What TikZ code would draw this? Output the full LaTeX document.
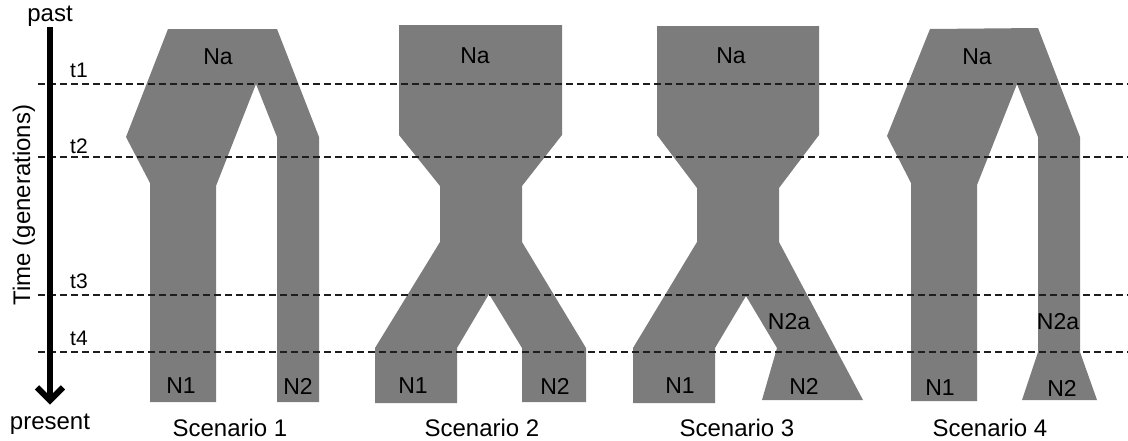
\documentclass[tikz,border=0pt]{standalone}
\usepackage{fontspec}
\setmainfont{Liberation Sans}
\usetikzlibrary{arrows.meta}
\definecolor{popgray}{RGB}{124,124,124}
\definecolor{dashcol}{RGB}{30,30,30}
\tikzset{
  pop/.style={fill=popgray, draw=none},
  tline/.style={draw=dashcol, line width=1.5pt, dash pattern=on 7pt off 4pt},
  lbl/.style={font=\fontsize{23}{26}\selectfont, inner sep=0pt},
  tlbl/.style={font=\fontsize{21}{24}\selectfont, inner sep=0pt},
  scen/.style={font=\fontsize{24}{28}\selectfont, inner sep=0pt},
  axislbl/.style={font=\fontsize{24}{27}\selectfont, inner sep=0pt},
  axisarrow/.style={line width=6.5pt, -{Straight Barb[length=13pt,width=26pt,line width=6pt]}}
}
\begin{document}
\begin{tikzpicture}[x=1pt,y=-1pt]
\useasboundingbox (0,0) rectangle (1128,440);
\fill[white] (0,0) rectangle (1128,440);

% Scenario 1
\fill[pop] (168,29) -- (277,29) -- (319,137) -- (319,402) -- (277,402) -- (277,137)
  -- (256,84) -- (216,186) -- (216,402) -- (150,402) -- (150,183) -- (126,137) -- cycle;
% Scenario 2
\fill[pop] (399,25) -- (562,25) -- (562,135) -- (522,186) -- (522,242) -- (586,348)
  -- (586,402) -- (522,402) -- (522,348) -- (489,294) -- (457,348) -- (457,403)
  -- (375,403) -- (375,348) -- (440,242) -- (440,186) -- (399,135) -- cycle;
% Scenario 3
\fill[pop] (657,26) -- (819,26) -- (819,135) -- (779,188) -- (779,242) -- (863,400)
  -- (762,400) -- (777,348) -- (746,296) -- (715,348) -- (715,403) -- (633,403)
  -- (633,348) -- (697,242) -- (697,188) -- (657,135) -- cycle;
% Scenario 4
\fill[pop] (930,29) -- (1038,28) -- (1080,137) -- (1080,352) -- (1097,400) -- (1022,400)
  -- (1038,352) -- (1038,137) -- (1017,84) -- (977,185) -- (977,401) -- (911,401)
  -- (911,183) -- (887,136) -- cycle;

% time lines
\coordinate (t1a) at (38,84);  \coordinate (t1b) at (1128,84);
\coordinate (t2a) at (38,157); \coordinate (t2b) at (1128,157);
\coordinate (t3a) at (38,295); \coordinate (t3b) at (1128,295);
\coordinate (t4a) at (38,352); \coordinate (t4b) at (1128,352);
\draw[tline] (t1a) -- (t1b);
\draw[tline] (t2a) -- (t2b);
\draw[tline] (t3a) -- (t3b);
\draw[tline] (t4a) -- (t4b);

\node[tlbl] (lt1) at (79,70) {t1};
\node[tlbl] (lt2) at (79,146) {t2};
\node[tlbl] (lt3) at (79,281) {t3};
\node[tlbl] (lt4) at (79,338) {t4};

% axis
\node[axislbl] (past) at (50,16) {past};
\node[axislbl] (present) at (50,424) {present};
\node[axislbl, rotate=90] (time) at (24,205) {Time (generations)};
\draw[axisarrow, shorten <=1pt, shorten >=9pt] (past.south) -- (present.north);

% labels
\node[lbl] (na1) at (218,57) {Na};
\node[lbl] (na2) at (475,56) {Na};
\node[lbl] (na3) at (731,56) {Na};
\node[lbl] (na4) at (977,57) {Na};
\node[lbl] (n11) at (181,386) {N1};
\node[lbl] (n21) at (298,386) {N2};
\node[lbl] (n12) at (413,386) {N1};
\node[lbl] (n22) at (555,386) {N2};
\node[lbl] (n13) at (680,386) {N1};
\node[lbl] (n23) at (804,386) {N2};
\node[lbl] (n2a3) at (789,322) {N2a};
\node[lbl] (n14) at (940,388) {N1};
\node[lbl] (n24) at (1062,388) {N2};
\node[lbl] (n2a4) at (1058,322) {N2a};

\node[scen] (s1) at (230,428) {Scenario 1};
\node[scen] (s2) at (482,428) {Scenario 2};
\node[scen] (s3) at (737,428) {Scenario 3};
\node[scen] (s4) at (990,428) {Scenario 4};
\end{tikzpicture}
\end{document}
